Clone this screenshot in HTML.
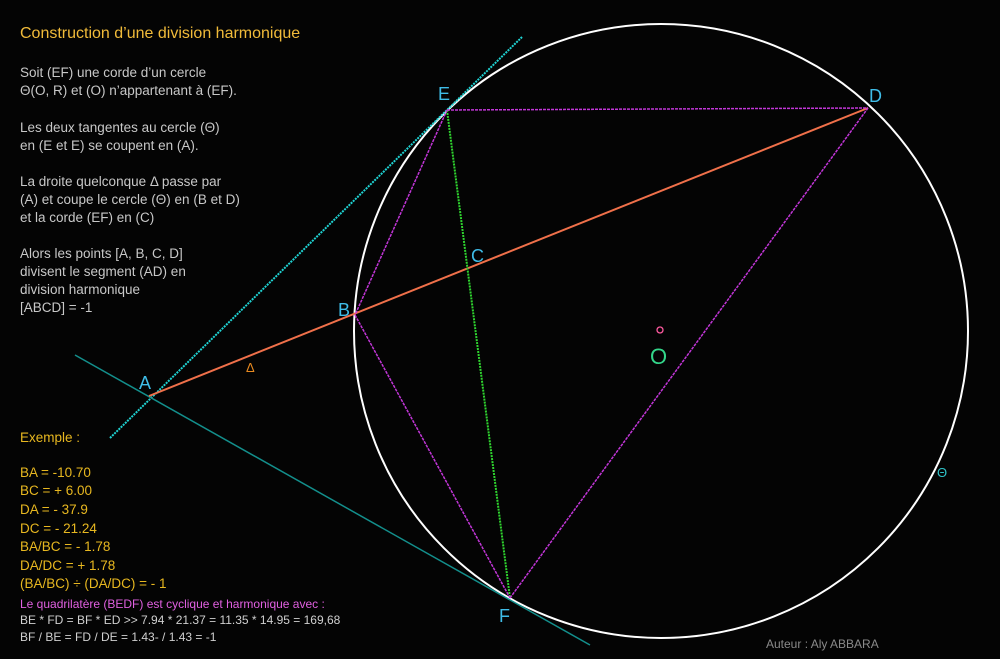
<!DOCTYPE html>
<html><head><meta charset="utf-8"><style>
html,body{margin:0;padding:0;background:#000;}
svg{display:block;}
text{font-family:"Liberation Sans",sans-serif;}
</style></head><body>
<svg width="1000" height="659" viewBox="0 0 1000 659" xmlns="http://www.w3.org/2000/svg">
<rect width="1000" height="659" fill="#040404"/>
<circle cx="661" cy="331" r="307" fill="none" stroke="#fff" stroke-width="2"/>
<line x1="110" y1="438" x2="522" y2="37" stroke="#1fd3d3" stroke-width="2" stroke-dasharray="2,1"/>
<line x1="75" y1="355" x2="590" y2="645" stroke="#138f8c" stroke-width="1.5"/>
<line x1="149" y1="396" x2="868" y2="108" stroke="#f0704a" stroke-width="2"/>
<line x1="447" y1="110" x2="510" y2="598" stroke="#2fd42f" stroke-width="2" stroke-dasharray="2,1"/>
<g stroke="#c236d8" stroke-width="1.5" stroke-dasharray="3,1" fill="none">
<line x1="447" y1="110" x2="868" y2="108"/>
<line x1="447" y1="110" x2="355" y2="315"/>
<line x1="355" y1="315" x2="510" y2="598"/>
<line x1="510" y1="598" x2="868" y2="108"/>
</g>
<circle cx="660" cy="330" r="3" fill="none" stroke="#ff5aa0" stroke-width="1.3"/>
<g fill="#3fbde8" font-size="18">
<text x="438" y="100">E</text>
<text x="869" y="102">D</text>
<text x="338" y="316">B</text>
<text x="471" y="262">C</text>
<text x="139" y="389">A</text>
<text x="499" y="622">F</text>
</g>
<text x="650" y="364" fill="#33d68a" font-size="22">O</text>
<text x="937" y="477" fill="#2fc3c8" font-size="13">Θ</text>
<text x="246" y="372" fill="#e88a20" font-size="13">Δ</text>
<text x="20" y="38" fill="#f1bb3a" font-size="16">Construction d’une division harmonique</text>
<g fill="#c8c8c8" font-size="13.5">
<text x="20" y="77">Soit (EF) une corde d’un cercle</text>
<text x="20" y="95">Θ(O, R) et (O) n’appartenant à (EF).</text>
<text x="20" y="132">Les deux tangentes au cercle (Θ)</text>
<text x="20" y="150">en (E et E) se coupent en (A).</text>
<text x="20" y="186">La droite quelconque Δ passe par</text>
<text x="20" y="204">(A) et coupe le cercle (Θ) en (B et D)</text>
<text x="20" y="222">et la corde (EF) en (C)</text>
<text x="20" y="258">Alors les points [A, B, C, D]</text>
<text x="20" y="276">divisent le segment (AD) en</text>
<text x="20" y="294">division harmonique</text>
<text x="20" y="312">[ABCD]  = -1</text>
</g>
<g fill="#e8b820" font-size="13.5">
<text x="20" y="442">Exemple :</text>
<text x="20" y="477">BA = -10.70</text>
<text x="20" y="495">BC = + 6.00</text>
<text x="20" y="514">DA = - 37.9</text>
<text x="20" y="533">DC = - 21.24</text>
<text x="20" y="551">BA/BC = - 1.78</text>
<text x="20" y="570">DA/DC = + 1.78</text>
<text x="20" y="588">(BA/BC) ÷ (DA/DC) = - 1</text>
</g>
<text x="20" y="608" fill="#e060e0" font-size="12">Le quadrilatère (BEDF) est cyclique et harmonique avec :</text>
<g fill="#d0d0d0" font-size="12">
<text x="20" y="624">BE * FD = BF * ED  &gt;&gt; 7.94 * 21.37 = 11.35 * 14.95 = 169,68</text>
<text x="20" y="641">BF / BE = FD / DE = 1.43- / 1.43 = -1</text>
</g>
<text x="766" y="648" fill="#8a8a8a" font-size="12">Auteur : Aly ABBARA</text>
</svg>
</body></html>
